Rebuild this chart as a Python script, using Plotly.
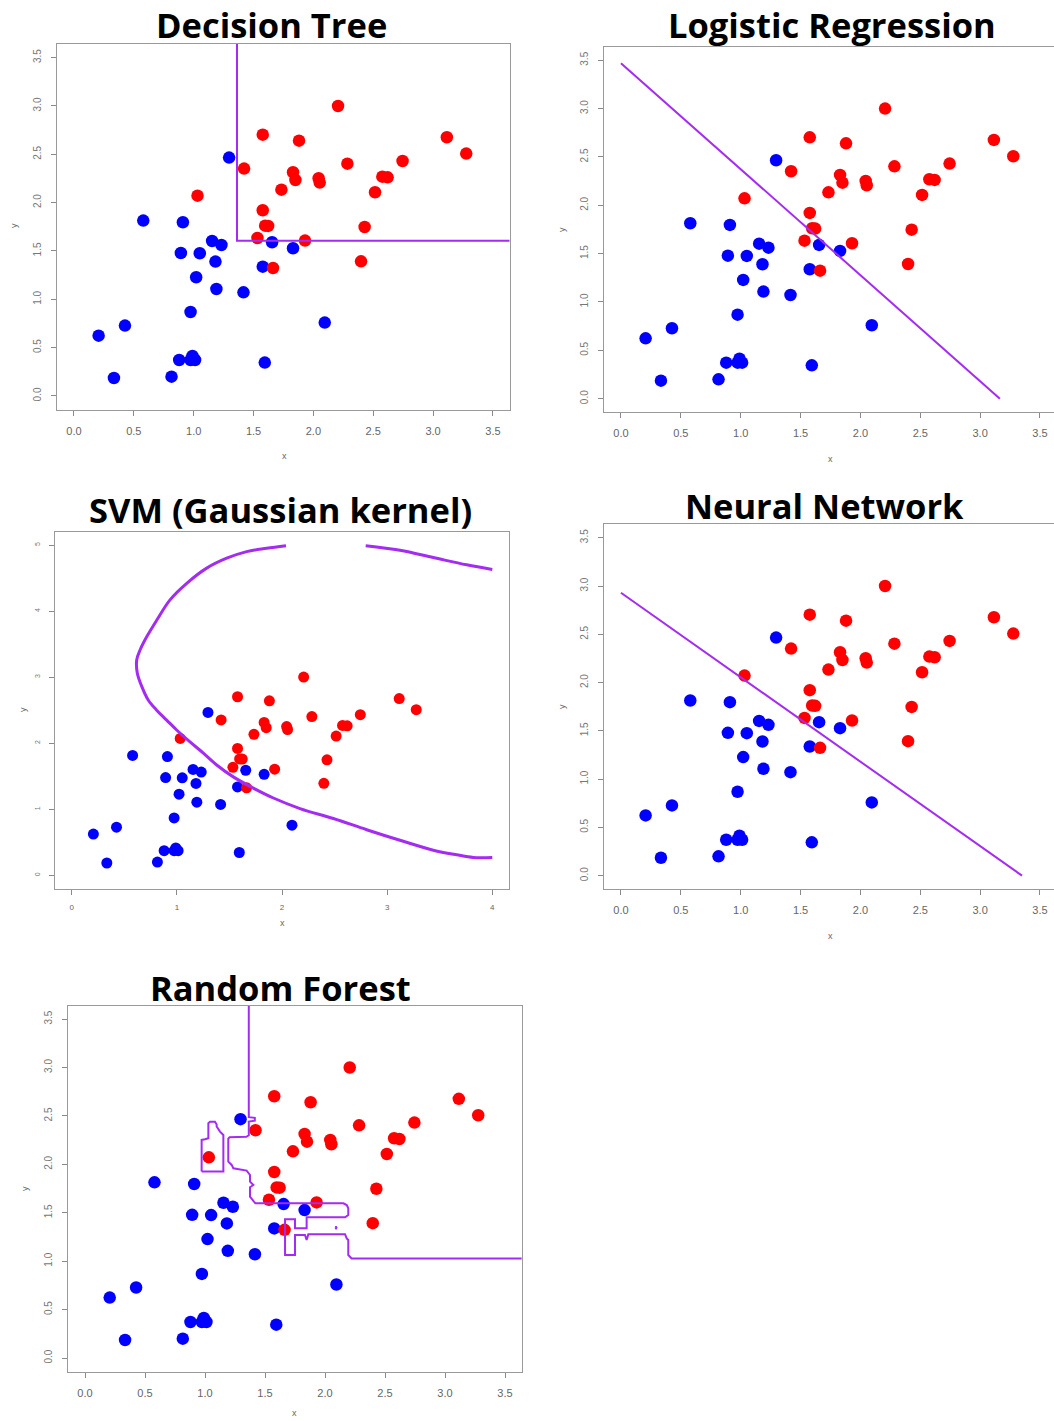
import plotly.graph_objects as go

W, H = 1054, 1421

# ---------------- data ----------------
blue_x = [0.206, 0.334, 0.426, 0.579, 0.815, 0.879, 0.974, 0.990, 1.012, 0.910,
          0.893, 1.051, 1.154, 1.232, 1.182, 1.021, 1.190, 1.416, 0.974, 1.296,
          1.577, 1.655, 1.830, 2.095, 1.594]
blue_y = [0.624, 0.186, 0.728, 1.814, 0.200, 0.372, 0.372, 0.414, 0.372, 1.797,
          1.479, 1.476, 1.603, 1.562, 1.390, 1.228, 1.107, 1.072, 0.869, 2.466,
          1.338, 1.590, 1.528, 0.759, 0.345]
red_x = [1.032, 1.421, 1.577, 1.880, 2.206, 3.115, 3.277, 2.745, 2.284, 1.830,
         1.850, 2.044, 2.053, 2.576, 2.620, 2.515, 1.733, 1.577, 1.597, 1.622,
         1.533, 1.930, 2.428, 2.398, 1.663]
red_y = [2.072, 2.352, 2.703, 2.641, 3.000, 2.676, 2.507, 2.431, 2.403, 2.314,
         2.234, 2.252, 2.207, 2.269, 2.262, 2.107, 2.134, 1.921, 1.762, 1.759,
         1.634, 1.607, 1.748, 1.393, 1.324]

# Decision tree split
dt_bx = [1.362, 1.362, 3.64]
dt_by = [3.64, 1.605, 1.605]

# Logistic regression boundary
lr_bx = [0.0, 3.165]
lr_by = [3.47, 0.0]

# Neural network boundary
nn_bx = [0.0, 3.35]
nn_by = [2.93, 0.0]

# SVM boundary (two pieces)
svm1_x = [2.038, 1.854, 1.664, 1.474, 1.284, 1.094, 0.935, 0.808, 0.713, 0.650,
          0.618, 0.624, 0.666, 0.729, 0.808, 0.903, 0.998, 1.125, 1.252, 1.379,
          1.537, 1.727, 1.918, 2.171, 2.488, 2.805, 3.122, 3.439, 3.661, 3.819, 4.0]
svm1_y = [4.99, 4.95, 4.90, 4.80, 4.65, 4.42, 4.17, 3.86, 3.61, 3.41,
          3.26, 3.06, 2.86, 2.65, 2.50, 2.35, 2.20, 2.02, 1.85, 1.67,
          1.49, 1.32, 1.17, 1.01, 0.86, 0.69, 0.53, 0.38, 0.31, 0.27, 0.27]
svm2_x = [2.796, 3.122, 3.439, 3.756, 4.0]
svm2_y = [4.99, 4.92, 4.81, 4.70, 4.63]

# Random forest boundary: main contour
rf_main_x = [1.365, 1.365, 1.415, 1.415, 1.365, 1.365, 1.345, 1.205, 1.194, 1.194,
             1.222, 1.236, 1.347, 1.375, 1.375, 1.403, 1.375, 1.375, 1.408, 1.420,
             2.153, 2.181, 2.194, 2.194, 2.167, 1.847, 1.847, 1.750, 1.750, 1.667,
             1.667, 1.750, 1.750, 1.833, 1.847, 1.861, 2.167, 2.181, 2.194, 2.194,
             2.222, 3.64]
rf_main_y = [3.64, 2.487, 2.48, 2.45, 2.441, 2.300, 2.284, 2.280, 2.265, 2.028,
             1.994, 1.959, 1.935, 1.890, 1.821, 1.787, 1.763, 1.666, 1.615, 1.598,
             1.598, 1.580, 1.546, 1.477, 1.453, 1.453, 1.339, 1.339, 1.432, 1.432,
             1.064, 1.064, 1.270, 1.270, 1.219, 1.277, 1.277, 1.236, 1.219, 1.064,
             1.029, 1.029]
# Random forest: island around the lone red point
rf_isl_x = [0.972, 0.972, 1.000, 1.028, 1.028, 1.042, 1.083, 1.097, 1.097, 1.125,
            1.153, 1.153, 0.972]
rf_isl_y = [1.925, 2.252, 2.259, 2.270, 2.424, 2.441, 2.441, 2.410, 2.390, 2.338,
            2.303, 1.925, 1.925]
# Random forest: tiny speck
rf_dot_x = [2.086, 2.092, 2.098, 2.092, 2.086]
rf_dot_y = [1.346, 1.360, 1.346, 1.332, 1.346]

ticks35 = [0, 0.5, 1.0, 1.5, 2.0, 2.5, 3.0, 3.5]
ticks35_txt = ["0.0", "0.5", "1.0", "1.5", "2.0", "2.5", "3.0", "3.5"]
ticks_svm_x = [0, 1, 2, 3, 4]
ticks_svm_y = [0, 1, 2, 3, 4, 5]

titles = ["Decision Tree", "Logistic Regression", "SVM (Gaussian kernel)",
          "Neural Network", "Random Forest"]

# ---------------- layout geometry (pixels) ----------------
panels = [
    dict(l=57.2, r=509.7, t=44.1, b=409.5, xr=[-0.14, 3.64], yr=[-0.14, 3.64]),
    dict(l=604.2, r=1054, t=46.7, b=412.2, xr=[-0.14, 3.617], yr=[-0.14, 3.64]),
    dict(l=54.9, r=509.1, t=531.8, b=888.5, xr=[-0.16, 4.16], yr=[-0.2, 5.2]),
    dict(l=604.2, r=1054, t=524.2, b=889.2, xr=[-0.14, 3.617], yr=[-0.14, 3.64]),
    dict(l=68.2, r=521.8, t=1005.5, b=1371.6, xr=[-0.14, 3.64], yr=[-0.14, 3.64]),
]
title_pos = [(271, 25), (832, 25), (280, 509), (824, 505), (280, 987)]
xlab_pos = [(284, 456), (830, 459), (282, 923), (830, 936), (294, 1413)]
ylab_pos = [(14, 226), (562, 230), (23, 710), (562, 707), (25, 1189)]

PURPLE = "#A42BF2"
fig = go.Figure()
layout = dict(width=W, height=H, margin=dict(l=0, r=0, t=0, b=0),
              paper_bgcolor="white", plot_bgcolor="white", showlegend=False)

def px(x):
    return x / W

def py(y):
    return 1 - y / H

annotations = []
for i, p in enumerate(panels):
    n = "" if i == 0 else str(i + 1)
    svm = (i == 2)
    xa = dict(domain=[px(p["l"]), min(1.0, px(p["r"]))], range=p["xr"],
              anchor="y" + n, showgrid=False, zeroline=False,
              showline=True, mirror=True, linecolor="#9a9a9a", linewidth=1,
              ticks="outside", ticklen=5, tickcolor="#8a8a8a",
              tickvals=ticks_svm_x if svm else ticks35,
              ticktext=[str(v) for v in ticks_svm_x] if svm else ticks35_txt,
              tickfont=dict(family="Liberation Sans", size=8 if svm else 11,
                            color="#666666"),
              ticklabelstandoff=6)
    ya = dict(domain=[py(p["b"]), py(p["t"])], range=p["yr"],
              anchor="x" + n, showgrid=False, zeroline=False,
              showline=True, mirror=True, linecolor="#9a9a9a", linewidth=1,
              ticks="outside", ticklen=5, tickcolor="#8a8a8a",
              tickvals=ticks_svm_y if svm else ticks35,
              ticktext=[str(v) for v in ticks_svm_y] if svm else ticks35_txt,
              tickangle=-90,
              tickfont=dict(family="Liberation Sans", size=7 if svm else 10,
                            color="#777777"),
              ticklabelstandoff=6)
    layout["xaxis" + n] = xa
    layout["yaxis" + n] = ya

    ms = 11 if svm else 12.5
    fig.add_trace(go.Scatter(x=blue_x, y=blue_y, mode="markers",
                             marker=dict(color="#0000FF", size=ms, line=dict(width=0)),
                             xaxis="x" + n, yaxis="y" + n))
    fig.add_trace(go.Scatter(x=red_x, y=red_y, mode="markers",
                             marker=dict(color="#FF0000", size=ms, line=dict(width=0)),
                             xaxis="x" + n, yaxis="y" + n))

    tx, ty = title_pos[i]
    annotations.append(dict(text="<b>" + titles[i] + "</b>", x=px(tx), y=py(ty),
                            xref="paper", yref="paper", showarrow=False,
                            xanchor="center", yanchor="middle",
                            font=dict(family="Open Sans", size=34.5, color="#000000")))
    lx, ly = xlab_pos[i]
    annotations.append(dict(text="x", x=px(lx), y=py(ly), xref="paper", yref="paper",
                            showarrow=False, xanchor="center", yanchor="middle",
                            font=dict(family="Liberation Sans", size=9, color="#666666")))
    lx, ly = ylab_pos[i]
    annotations.append(dict(text="y", x=px(lx), y=py(ly), xref="paper", yref="paper",
                            showarrow=False, xanchor="center", yanchor="middle",
                            textangle=-90,
                            font=dict(family="Liberation Sans", size=9, color="#666666")))

def boundary(xs, ys, n, width=2, shape="linear"):
    fig.add_trace(go.Scatter(x=xs, y=ys, mode="lines",
                             line=dict(color=PURPLE, width=width, shape=shape),
                             xaxis="x" + n, yaxis="y" + n, cliponaxis=True))

boundary(dt_bx, dt_by, "")
boundary(lr_bx, lr_by, "2")
boundary(svm1_x, svm1_y, "3", width=3, shape="spline")
boundary(svm2_x, svm2_y, "3", width=3, shape="spline")
boundary(nn_bx, nn_by, "4")
boundary(rf_main_x, rf_main_y, "5")
boundary(rf_isl_x, rf_isl_y, "5")
boundary(rf_dot_x, rf_dot_y, "5", width=1.5)

layout["annotations"] = annotations
fig.update_layout(**layout)
fig.write_html("out.html", config={"displayModeBar": False},
               post_script="document.body.style.margin='0';document.body.style.overflow='hidden';")
